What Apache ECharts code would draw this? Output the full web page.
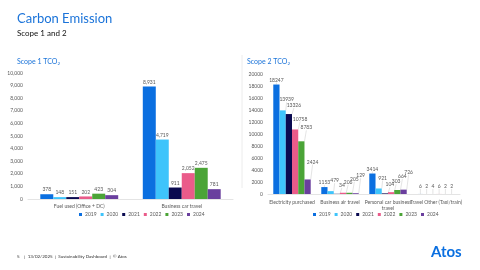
<!DOCTYPE html>
<html><head><meta charset="utf-8">
<script src="https://cdn.jsdelivr.net/npm/echarts@6/dist/echarts.min.js"></script>
<style>html,body{margin:0;padding:0;background:#fff}#c{width:480px;height:270px}</style>
</head><body><div id="c"></div>
<script>
const years = ['2019','2020','2021','2022','2023','2024'];
const colors = ['#0b6fe0','#3ec4fb','#0a0a50','#ea5b8a','#4ba437','#6a3f9e'];
const scope1Cats = ['Fuel used (Office + DC)','Business car travel'];
const s1_2019 = [378, 8931];
const s1_2020 = [148, 4719];
const s1_2021 = [151, 911];
const s1_2022 = [202, 2052];
const s1_2023 = [423, 2475];
const s1_2024 = [304, 781];
const scope2Cats = ['Electricity purchased','Business air travel','Personal car business\ntravel','Travel Other (Taxi/train)'];
const s2_2019 = [18247, 1153, 3414, 6];
const s2_2020 = [13939, 479, 921, 2];
const s2_2021 = [13326, 34, 104, 4];
const s2_2022 = [10758, 206, 303, 6];
const s2_2023 = [8783, 205, 664, 2];
const s2_2024 = [2424, 129, 726, 2];
const s1 = [s1_2019,s1_2020,s1_2021,s1_2022,s1_2023,s1_2024];
const s2 = [s2_2019,s2_2020,s2_2021,s2_2022,s2_2023,s2_2024];
// label leader offsets (style) for scope 2 series
const lblDx = [0, 4, 5, 5, 5, 5];
const lblDy = [0, -6, -4, -6, -9, -13];

const FONT = 'Lato';
const chart = echarts.init(document.getElementById('c'));
const series = [];
years.forEach((y,i)=>{
  series.push({name:y,type:'bar',xAxisIndex:0,yAxisIndex:0,data:s1[i],barGap:'0%',barCategoryGap:'24%',
    itemStyle:{color:colors[i]},
    label:{show:true,position:'top',distance:2,fontSize:5,color:'#595959',fontFamily:FONT,
      formatter:p=>p.value.toLocaleString('en-US')}});
  series.push({name:y,type:'bar',xAxisIndex:1,yAxisIndex:1,data:s2[i],barGap:'0%',barCategoryGap:'22%',
    itemStyle:{color:colors[i]},
    label:{show:true,position:'top',distance:2,fontSize:5,color:'#595959',fontFamily:FONT,formatter:p=>String(p.value)},
    labelLine:{show:true,length2:0,lineStyle:{color:'#c8c8c8',width:0.5}},
    labelLayout:p=>(p.dataIndex===3 ? {dy:-3} : {dx:lblDx[i],dy:lblDy[i]})});
});
const legendCommon = {data:years,top:212,padding:0,itemWidth:3,itemHeight:3,itemGap:4,icon:'rect',
  textStyle:{fontSize:5,color:'#595959',padding:[0,0,0,-2],fontFamily:FONT}};
chart.setOption({
  animation:false,
  textStyle:{fontFamily:FONT},
  grid:[{left:28,right:247,top:73,bottom:71},{left:268,right:20,top:74,bottom:76}],
  xAxis:[
    {type:'category',gridIndex:0,data:scope1Cats,axisTick:{show:false},
      axisLine:{lineStyle:{color:'#d9d9d9',width:0.7}},axisLabel:{fontSize:5,color:'#595959',margin:5}},
    {type:'category',gridIndex:1,data:scope2Cats,axisTick:{show:false},
      axisLine:{lineStyle:{color:'#d9d9d9',width:0.7}},axisLabel:{fontSize:5,color:'#595959',margin:5,interval:0,lineHeight:6}}
  ],
  yAxis:[
    {type:'value',gridIndex:0,min:0,max:10000,interval:1000,splitLine:{show:false},
      axisLabel:{fontSize:5,color:'#595959',margin:5,formatter:v=>v.toLocaleString('en-US')}},
    {type:'value',gridIndex:1,min:0,max:20000,interval:2000,splitLine:{show:false},
      axisLabel:{fontSize:5,color:'#595959',margin:5,formatter:v=>String(v)}}
  ],
  legend:[
    Object.assign({left:79},legendCommon),
    Object.assign({left:313},legendCommon)
  ],
  series:series,
  graphic:[
    {type:'text',left:17,top:12,style:{text:'Carbon Emission',fontSize:13,fill:'#1a73d9',fontFamily:FONT}},
    {type:'text',left:17,top:29,style:{text:'Scope 1 and 2',fontSize:8,fill:'#111',fontFamily:FONT}},
    {type:'text',left:17,top:58,style:{rich:{a:{fontSize:7,fill:'#1a73d9',fontFamily:FONT},b:{fontSize:4.5,fill:'#1a73d9',fontFamily:FONT,padding:[4,0,0,0]}},text:'{a|Scope 1 TCO}{b|2}'}},
    {type:'text',left:247,top:58,style:{rich:{a:{fontSize:7,fill:'#1a73d9',fontFamily:FONT},b:{fontSize:4.5,fill:'#1a73d9',fontFamily:FONT,padding:[4,0,0,0]}},text:'{a|Scope 2 TCO}{b|2}'}},
    {type:'line',shape:{x1:242,y1:55,x2:242,y2:188},style:{stroke:'#ececec',lineWidth:1}},
    {type:'text',left:17,top:254,style:{text:'5    |  13/02/2025  |  Sustainability Dashboard  |  © Atos',fontSize:4.5,fill:'#333',fontFamily:FONT}},
    {type:'text',left:431,top:245,style:{text:'Atos',fontSize:15,fontWeight:'bold',fill:'#0a6fe0',fontFamily:FONT}}
  ]
});
</script></body></html>
